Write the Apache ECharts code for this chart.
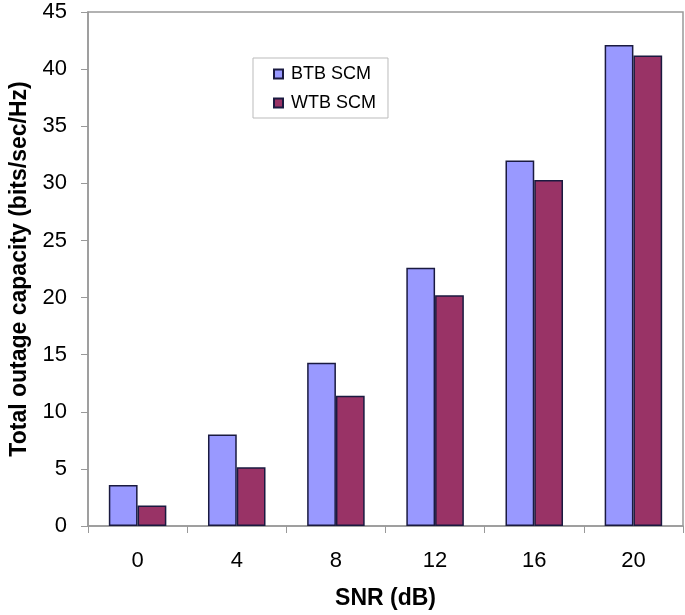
<!DOCTYPE html>
<html><head><meta charset="utf-8">
<script src="https://cdn.jsdelivr.net/npm/echarts@6/dist/echarts.min.js"></script>
<style>html,body{margin:0;padding:0;background:#fff}#c{width:685px;height:615px}</style>
</head><body><div id="c"></div>
<script>
const categories = ['0', '4', '8', '12', '16', '20'];
const btbValues = [3.6, 8.0, 14.3, 22.6, 32.0, 42.1];
const wtbValues = [1.8, 5.15, 11.4, 20.2, 30.3, 41.2];
const seriesNames = ['BTB SCM', 'WTB SCM'];
const yTicks = { min: 0, max: 45, interval: 5 };

const chart = echarts.init(document.getElementById('c'));
const font = 'Liberation Sans, Arial, sans-serif';
chart.setOption({
  animation: false,
  backgroundColor: '#fff',
  grid: { left: 85, right: 2, top: 12, bottom: 88, show: true, borderColor: '#999', borderWidth: 1.5 },
  legend: {
    left: 253, top: 58, width: 140, orient: 'vertical',
    itemWidth: 9, itemHeight: 9, itemGap: 11,
    padding: [7, 12, 6, 20],
    borderColor: '#bbb', borderWidth: 1,
    textStyle: { fontFamily: font, fontSize: 18, color: '#000', padding: [0, 0, 0, 3] },
    data: seriesNames.map(n => ({ name: n, icon: 'rect' }))
  },
  xAxis: {
    type: 'category', data: categories,
    axisLine: { lineStyle: { color: '#999', width: 1.5 } },
    axisTick: { show: true, length: 7, lineStyle: { color: '#999' } },
    axisLabel: { fontFamily: font, fontSize: 22, color: '#000', margin: 24 },
    name: 'SNR (dB)', nameLocation: 'middle', nameGap: 61,
    nameTextStyle: { fontFamily: font, fontSize: 23, fontWeight: 'bold', color: '#000' }
  },
  yAxis: {
    type: 'value', min: yTicks.min, max: yTicks.max, interval: yTicks.interval,
    axisLine: { show: true, lineStyle: { color: '#999', width: 1.5 } },
    axisTick: { show: true, length: 7, lineStyle: { color: '#999' } },
    splitLine: { show: false },
    axisLabel: { fontFamily: font, fontSize: 22, color: '#000', margin: 21 },
    name: 'Total outage capacity (bits/sec/Hz)', nameLocation: 'middle', nameGap: 57,
    nameTextStyle: { fontFamily: font, fontSize: 23, fontWeight: 'bold', color: '#000' }
  },
  series: [
    { name: seriesNames[0], type: 'bar', data: btbValues, barGap: '0%', barCategoryGap: '42%',
      itemStyle: { color: '#9999ff', borderColor: '#1a1a40', borderWidth: 1.5 } },
    { name: seriesNames[1], type: 'bar', data: wtbValues,
      itemStyle: { color: '#993366', borderColor: '#1a1a40', borderWidth: 1.5 } }
  ]
});
</script></body></html>
